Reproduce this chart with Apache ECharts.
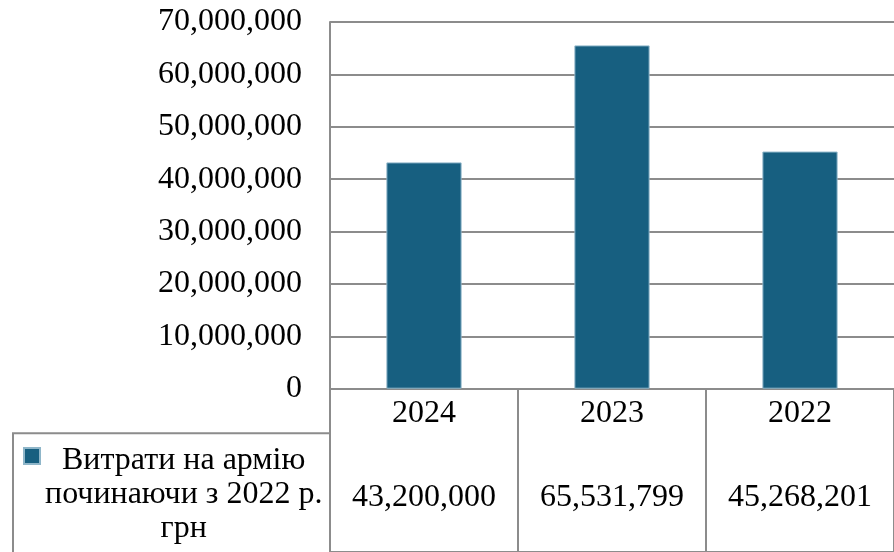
<!DOCTYPE html>
<html>
<head>
<meta charset="utf-8">
<script src="https://cdn.jsdelivr.net/npm/echarts@6/dist/echarts.min.js"></script>
<style>html,body{margin:0;padding:0;background:#fff}#c{width:894px;height:552px}</style>
</head>
<body>
<div id="c"></div>
<script>
// ---- data ----
const categories = ['2024', '2023', '2022'];
const spending = [43200000, 65531799, 45268201];
const seriesName = 'Витрати на армію починаючи з 2022 р. грн';
const legendLines = ['Витрати на армію', 'починаючи з 2022 р.', 'грн'];
const yMin = 0;
const yMax = 70000000;
const yInterval = 10000000;

// ---- styling ----
const FONT = "'Liberation Serif', 'Times New Roman', serif";
const FS = 32;
const GRID_COLOR = '#8c8c8c';
const BAR_COLOR = '#175f80';
const fmt = v => Number(v).toLocaleString('en-US');
const tableValues = spending.map(fmt);

const chart = echarts.init(document.getElementById('c'));
chart.setOption({
  animation: false,
  backgroundColor: '#fff',
  grid: [
    { left: 330, width: 569, top: 22, bottom: 163.3 },
    { left: 330, width: 569, top: 433.3, bottom: 0 }
  ],
  legend: {
    data: [seriesName],
    left: 23,
    top: 366,
    padding: 0,
    icon: 'rect',
    itemWidth: 16,
    itemHeight: 16,
    selectedMode: false,
    formatter: () => '{e|\u00a0}\n{e|\u00a0}\n' + legendLines.map(l => '{a|' + l + '}').join('\n'),
    textStyle: {
      fontFamily: FONT, fontSize: FS, color: '#000', lineHeight: 34,
      rich: {
        a: { fontFamily: FONT, fontSize: FS, color: '#000', lineHeight: 34, align: 'center' },
        e: { fontFamily: FONT, fontSize: FS, lineHeight: 39 }
      }
    }
  },
  xAxis: [
    {
      gridIndex: 0,
      type: 'category',
      data: categories,
      axisLine: { show: true, lineStyle: { color: GRID_COLOR, width: 2 } },
      axisTick: { show: true, length: 164, lineStyle: { color: GRID_COLOR, width: 2 } },
      axisLabel: { margin: 9, fontFamily: FONT, fontSize: FS, color: '#000' },
      splitLine: { show: false }
    },
    {
      gridIndex: 1,
      type: 'category',
      position: 'top',
      data: tableValues,
      axisLine: { show: true, lineStyle: { color: GRID_COLOR, width: 2 } },
      axisTick: { show: false },
      axisLabel: { inside: true, margin: 48, fontFamily: FONT, fontSize: FS, color: '#000' },
      splitLine: { show: false }
    }
  ],
  yAxis: [
    {
      gridIndex: 0,
      type: 'value',
      min: yMin,
      max: yMax,
      interval: yInterval,
      axisLine: { show: true, lineStyle: { color: GRID_COLOR, width: 2 } },
      axisTick: { show: false },
      axisLabel: { margin: 28, fontFamily: FONT, fontSize: FS, color: '#000', formatter: fmt },
      splitLine: { show: true, lineStyle: { color: GRID_COLOR, width: 2 } }
    },
    { gridIndex: 1, type: 'value', show: false }
  ],
  series: [
    {
      name: seriesName,
      type: 'bar',
      xAxisIndex: 0,
      yAxisIndex: 0,
      data: spending,
      barWidth: '40%',
      itemStyle: { color: BAR_COLOR, borderColor: '#8fb6c9', borderWidth: 1 }
    }
  ],
  graphic: [
    {
      type: 'polyline',
      shape: { points: [[13, 552], [13, 433.3], [330, 433.3]] },
      style: { stroke: GRID_COLOR, lineWidth: 2, fill: null },
      silent: true
    }
  ]
});
</script>
</body>
</html>
